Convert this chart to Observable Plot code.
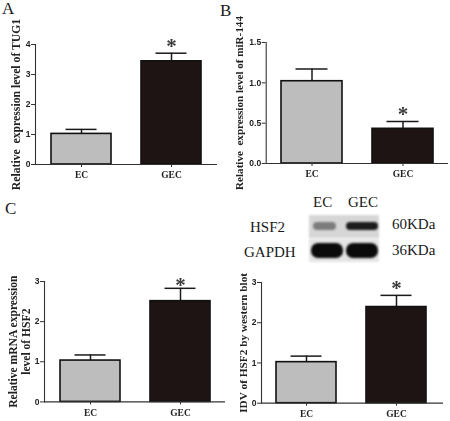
<!DOCTYPE html>
<html><head><meta charset="utf-8">
<script src="https://cdn.jsdelivr.net/npm/d3@7"></script>
<script src="https://cdn.jsdelivr.net/npm/@observablehq/plot@0.6"></script>
<style>
html,body{margin:0;padding:0;background:#fff}
#fig{position:relative;width:450px;height:421px;overflow:hidden;font-family:"Liberation Serif",serif;color:#1a1a1a}
#fig>svg{position:absolute}
.lab{position:absolute;white-space:nowrap;line-height:1;transform:translateY(-50%)}
</style></head><body><div id="fig"></div>
<script>
const groups = ["EC", "GEC"];
const tugValues = [1.02, 3.44], tugCaps = [1.17, 3.71];
const mirValues = [1.02, 0.43], mirCaps = [1.17, 0.52];
const mrnaValues = [1.03, 2.51], mrnaCaps = [1.17, 2.83];
const idvValues = [1.02, 2.39], idvCaps = [1.17, 2.68];
const barColors = ["#bdbdbd", "#1e1414"];
const proteins = ["HSF2", "GAPDH"];
const serif = "Liberation Serif", sans = "Liberation Sans";

const fig = document.getElementById("fig");

function panel(o) {
  const rows = groups.map((g, i) => ({g, v: o.values[i], hi: o.caps[i]}));
  const plotH = o.y0 - o.yTop;
  const svg = Plot.plot({
    width: o.right - o.left, height: plotH + 40,
    marginLeft: o.axisX - o.left, marginRight: 0, marginTop: 10, marginBottom: 30,
    style: {background: "transparent", overflow: "visible", filter: "blur(0.3px)"},
    x: {type: "band", domain: groups, range: [o.bar0 - o.left, o.bar1 - o.left], paddingInner: 0.335, paddingOuter: 0, axis: null},
    y: {domain: [0, o.ymax], axis: null},
    color: {domain: groups, range: barColors},
    marks: [
      Plot.ruleX(rows, {x: "g", y1: "v", y2: "hi", stroke: "#1a1a1a", strokeWidth: 1.5}),
      Plot.tickY(rows, {x: "g", y: "hi", stroke: "#1a1a1a", strokeWidth: 1.5, insetLeft: 14.5, insetRight: 14.5}),
      Plot.barY(rows, {x: "g", y: "v", fill: "g", stroke: "#111", strokeWidth: 1.6}),
      Plot.text(rows.filter(d => d.g === "GEC"), {x: "g", y: "hi", text: () => "*", dy: o.starDy, lineAnchor: "middle", fontSize: 21, fontWeight: "bold", fontFamily: serif, fill: "#3a3a3a"}),
      Plot.frame({anchor: "left", stroke: "#333", strokeWidth: 1.1}),
      Plot.ruleY([0], {stroke: "#333", strokeWidth: 1.2}),
      Plot.axisX({tickSize: 3, tickPadding: 4, fontFamily: serif, fontWeight: "bold", fontSize: 9.5, stroke: "#333", fill: "#222", label: null}),
      Plot.axisY({ticks: o.ticks, tickFormat: o.fmt, tickSize: 4, tickPadding: 1, fontFamily: sans, fontWeight: "bold", fontSize: 8.5, stroke: "#333", fill: "#222", label: null}),
      Plot.text([o.title], {text: d => d, frameAnchor: "left", dx: o.titleDx, dy: o.titleDy || 0, rotate: -90, textAnchor: "middle", lineAnchor: "middle", lineHeight: 1.15, fontFamily: serif, fontWeight: "bold", fontSize: o.titleSize, fill: "#222"})
    ]
  });
  svg.style.left = o.left + "px";
  svg.style.top = (o.yTop - 10) + "px";
  fig.appendChild(svg);
}

panel({values: tugValues, caps: tugCaps, ymax: 4, ticks: [0,1,2,3,4], fmt: d3.format("d"),
  title: "Relative  expression level of TUG1", left: 0, right: 217, axisX: 35, y0: 163.7, yTop: 43.7,
  bar0: 50, bar1: 201.5, starDy: -7, titleDx: -20, titleSize: 11.7});
panel({values: mirValues, caps: mirCaps, ymax: 1.5, ticks: [0,0.5,1,1.5], fmt: d3.format(".1f"),
  title: "Relative  expression level of miR-144", left: 225, right: 448, axisX: 265.7, y0: 163.3, yTop: 42.3,
  bar0: 281, bar1: 433, starDy: -7, titleDx: -27, titleSize: 11.1});
panel({values: mrnaValues, caps: mrnaCaps, ymax: 3, ticks: [0,1,2,3], fmt: d3.format("d"),
  title: "Relative mRNA expression\nlevel of HSF2", left: 0, right: 225, axisX: 44, y0: 401.7, yTop: 281.3,
  bar0: 59.5, bar1: 211, starDy: -3, titleDx: -25.5, titleSize: 11.6});
panel({values: idvValues, caps: idvCaps, ymax: 3, ticks: [0,1,2,3], fmt: d3.format("d"),
  title: "IDV of HSF2 by western blot", left: 225, right: 443, axisX: 261, y0: 403, yTop: 282.3,
  bar0: 275.5, bar1: 427, starDy: -7, titleDx: -19, titleSize: 11.3});

// Western blot inset: one cell per lane and protein
const blotBack = proteins.flatMap(p => groups.map(g => ({p, g, shade: p === "HSF2" ? "#d6d6d6" : "#e4e4e4"})));
const blotFaint = [{p: "HSF2", g: "EC"}];
const blotStrong = [{p: "HSF2", g: "GEC"}];
const blotLoading = groups.map(g => ({p: "GAPDH", g}));
const blot = Plot.plot({
  width: 71, height: 48, margin: 0,
  style: {background: "transparent", overflow: "visible", filter: "blur(1px)"},
  x: {type: "band", domain: groups, padding: 0, axis: null},
  y: {type: "band", domain: proteins, paddingInner: 0.05, paddingOuter: 0, axis: null},
  marks: [
    Plot.cell(blotBack, {x: "g", y: "p", fill: "shade"}),
    Plot.cell(blotFaint, {x: "g", y: "p", fill: "#7c7c7c", insetLeft: 4, insetRight: 8, insetTop: 7, insetBottom: 8, rx: 4}),
    Plot.cell(blotStrong, {x: "g", y: "p", fill: "#1c1c1c", insetLeft: 2, insetRight: 1, insetTop: 7, insetBottom: 8, rx: 4}),
    Plot.cell(blotLoading, {x: "g", y: "p", fill: "#0a0a0a", insetLeft: 2, insetRight: 1, insetTop: 4, insetBottom: 4, rx: 7})
  ]
});
blot.style.left = "308px"; blot.style.top = "214px";
fig.appendChild(blot);

function label(text, x, yMid, size) {
  const d = document.createElement("div");
  d.className = "lab"; d.textContent = text;
  d.style.left = x + "px"; d.style.top = yMid + "px"; d.style.fontSize = size + "px";
  fig.appendChild(d);
}
label("A", 2, 8, 17); label("B", 220, 10, 17); label("C", 5, 208, 17);
label("EC", 313, 202, 15); label("GEC", 348, 202, 15);
label("HSF2", 250, 227, 15); label("GAPDH", 244, 252, 15);
label("60KDa", 392, 224, 15); label("36KDa", 392, 250, 15);
</script>
</body></html>
